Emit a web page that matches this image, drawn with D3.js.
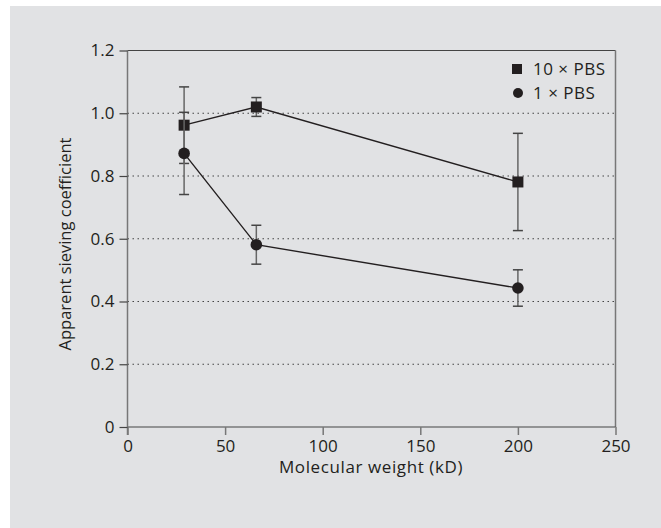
<!DOCTYPE html>
<html><head><meta charset="utf-8">
<script src="https://cdn.jsdelivr.net/npm/d3@7"></script>
<style>body{margin:0;background:#fff}svg{display:block}text{font-family:"Open Sans","Noto Sans",sans-serif;fill:#231f20}</style>
</head><body>
<svg id="c" width="661" height="528"></svg>
<script>
const mw = [29, 66, 200];
const pbs10 = [0.962, 1.020, 0.781];
const pbs10Err = [0.122, 0.030, 0.155];
const pbs1 = [0.872, 0.581, 0.443];
const pbs1Err = [0.131, 0.062, 0.058];
const xTicks = [0, 50, 100, 150, 200, 250];
const yTicks = [0, 0.2, 0.4, 0.6, 0.8, 1.0, 1.2];
const gridVals = [0.2, 0.4, 0.6, 0.8, 1.0];
const legendLabels = ["10 × PBS", "1 × PBS"];

const svg = d3.select("#c");
svg.append("rect").attr("x",10).attr("y",6).attr("width",651).attr("height",522).attr("fill","#e1e2e4");

const x = d3.scaleLinear().domain([0,250]).range([127.5,615.5]);
const y = d3.scaleLinear().domain([0,1.2]).range([427,50.5]);

svg.append("g").selectAll("line").data(gridVals).join("line")
  .attr("x1",x(0)).attr("x2",x(250)).attr("y1",d=>y(d)).attr("y2",d=>y(d))
  .attr("stroke","#444").attr("stroke-width",1.2).attr("stroke-dasharray","1.5,3.5");

svg.append("line").attr("x1",x(0)).attr("x2",x(250)).attr("y1",y(1.2)).attr("y2",y(1.2)).attr("stroke","#444").attr("stroke-width",1.2);
svg.append("line").attr("x1",x(250)).attr("x2",x(250)).attr("y1",y(1.2)).attr("y2",y(0)).attr("stroke","#777").attr("stroke-width",1.5);

const fs = 17;
const xa = svg.append("g").attr("transform",`translate(0,${y(0)})`)
  .call(d3.axisBottom(x).tickValues(xTicks).tickSize(8).tickPadding(5).tickFormat(d3.format("d")));
xa.select(".domain").attr("stroke","#444").attr("stroke-width",1.2).attr("d",`M${x(0)},0H${x(250)}`);
xa.selectAll(".tick line").attr("stroke","#777").attr("stroke-width",1.5);
xa.selectAll(".tick text").attr("font-size",fs).attr("fill","#231f20").style("font-family","'Open Sans',sans-serif");

const ya = svg.append("g").attr("transform",`translate(${x(0)},0)`)
  .call(d3.axisLeft(y).tickValues(yTicks).tickSize(8).tickPadding(5).tickFormat(d=>d===0?"0":d3.format(".1f")(d)));
ya.select(".domain").attr("stroke","#777").attr("stroke-width",1.5).attr("d",`M0,${y(1.2)}V${y(0)+8}`);
ya.selectAll(".tick line").attr("stroke","#444").attr("stroke-width",1.2);
ya.selectAll(".tick text").attr("font-size",fs).attr("fill","#231f20").style("font-family","'Open Sans',sans-serif");

svg.append("text").attr("x",371).attr("y",473).attr("text-anchor","middle").attr("font-size",17).attr("letter-spacing","0.6px").text("Molecular weight (kD)");
svg.append("text").attr("transform","translate(71,244) rotate(-90)").attr("text-anchor","middle").attr("font-size",16.5).text("Apparent sieving coefficient");

function series(vals, errs){
  const g = svg.append("g");
  const pts = mw.map((m,i)=>({m, v:vals[i], e:errs[i]}));
  g.append("path").datum(pts).attr("fill","none").attr("stroke","#231f20").attr("stroke-width",1.4)
    .attr("d", d3.line().x(d=>x(d.m)).y(d=>y(d.v)));
  const eb = g.selectAll("g.eb").data(pts).join("g");
  eb.append("line").attr("x1",d=>x(d.m)).attr("x2",d=>x(d.m)).attr("y1",d=>y(d.v+d.e)).attr("y2",d=>y(d.v-d.e)).attr("stroke","#666").attr("stroke-width",1.5);
  [1,-1].forEach(s=>{
    eb.append("line").attr("x1",d=>x(d.m)-5).attr("x2",d=>x(d.m)+5).attr("y1",d=>y(d.v+s*d.e)).attr("y2",d=>y(d.v+s*d.e)).attr("stroke","#444").attr("stroke-width",1.5);
  });
  return {g, pts};
}
const s10 = series(pbs10, pbs10Err);
const s1 = series(pbs1, pbs1Err);
s10.g.selectAll("rect.m").data(s10.pts).join("rect").attr("x",d=>x(d.m)-5.5).attr("y",d=>y(d.v)-5.5).attr("width",11).attr("height",11).attr("fill","#231f20");
s1.g.selectAll("circle.m").data(s1.pts).join("circle").attr("cx",d=>x(d.m)).attr("cy",d=>y(d.v)).attr("r",5.8).attr("fill","#231f20");

const lg = svg.append("g");
lg.append("rect").attr("x",512).attr("y",64).attr("width",10).attr("height",10).attr("fill","#231f20");
lg.append("circle").attr("cx",518).attr("cy",93).attr("r",5).attr("fill","#231f20");
lg.selectAll("text").data(legendLabels).join("text").attr("x",533).attr("y",(d,i)=>75+i*24).attr("font-size",17).attr("letter-spacing","0.5px").text(d=>d);
</script>
</body></html>
